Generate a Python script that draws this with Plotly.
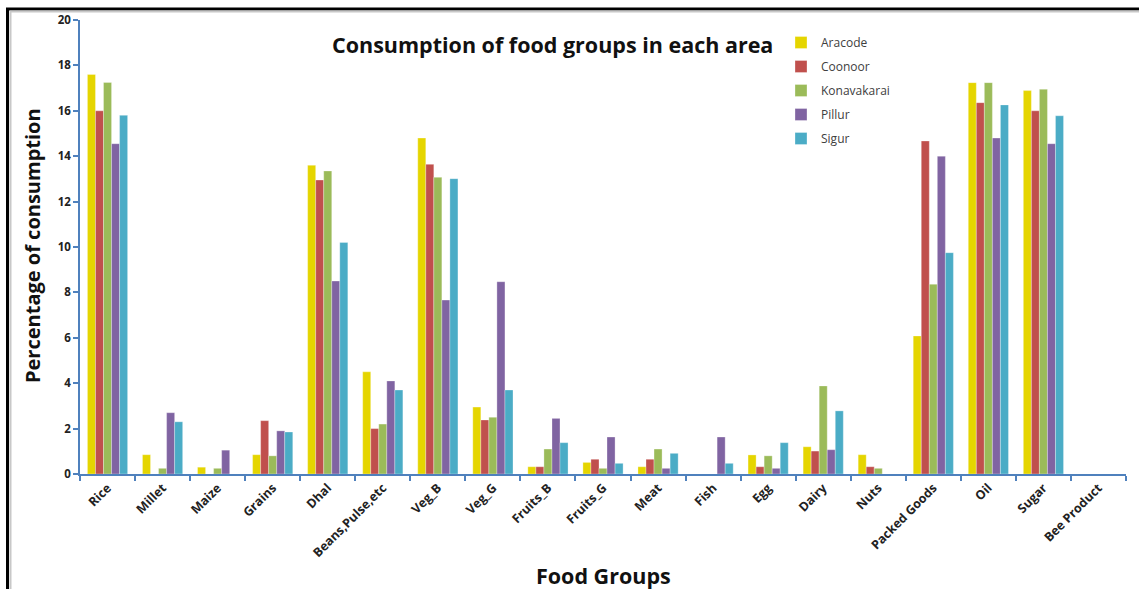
import plotly.graph_objects as go

categories = ["Rice", "Millet", "Maize", "Grains", "Dhal", "Beans,Pulse,etc", "Veg_B", "Veg_G",
              "Fruits_B", "Fruits_G", "Meat", "Fish", "Egg", "Dairy", "Nuts", "Packed Goods",
              "Oil", "Sugar", "Bee Product"]

aracode     = [17.6, 0.85, 0.30, 0.85, 13.6, 4.5, 14.8, 2.95, 0.32, 0.51, 0.32, 0.0, 0.84, 1.20, 0.85, 6.08, 17.24, 16.89, 0.0]
coonoor     = [16.0, 0.0, 0.0, 2.35, 12.95, 2.0, 13.64, 2.38, 0.32, 0.65, 0.65, 0.0, 0.32, 1.01, 0.32, 14.67, 16.36, 16.0, 0.0]
konavakarai = [17.25, 0.25, 0.25, 0.80, 13.35, 2.2, 13.07, 2.5, 1.10, 0.25, 1.10, 0.0, 0.80, 3.88, 0.25, 8.36, 17.24, 16.95, 0.0]
pillur      = [14.55, 2.7, 1.05, 1.90, 8.5, 4.1, 7.66, 8.47, 2.45, 1.63, 0.25, 1.63, 0.25, 1.07, 0.0, 14.0, 14.8, 14.55, 0.0]
sigur       = [15.8, 2.3, 0.0, 1.85, 10.2, 3.7, 13.01, 3.70, 1.38, 0.47, 0.91, 0.47, 1.38, 2.78, 0.0, 9.75, 16.26, 15.78, 0.0]

series_names = ["Aracode", "Coonoor", "Konavakarai", "Pillur", "Sigur"]
series_values = [aracode, coonoor, konavakarai, pillur, sigur]
colors = ["#E5D500", "#C0504D", "#9BBB59", "#8064A2", "#4BACC6"]

FONT = "Open Sans"

fig = go.Figure()
for name, vals, col in zip(series_names, series_values, colors):
    fig.add_trace(go.Bar(
        x=categories, y=vals, name=name, legendgroup=name,
        marker=dict(color=col, line=dict(color="rgba(255,255,255,0.5)", width=0.6)),
    ))

L, R, T, B = 80, 13, 20, 115
W, H = 1139, 589
pw, ph = W - L - R, H - T - B

def px(x):
    return (x - L) / pw

def py(y):
    return (H - B - y) / ph

axis_col = "#4F81BD"
fig.update_layout(
    width=W, height=H,
    margin=dict(l=L, r=R, t=T, b=B),
    paper_bgcolor="white", plot_bgcolor="white",
    barmode="group", bargap=0.27, bargroupgap=0,
    font=dict(family=FONT, color="#222222"),
    showlegend=True,
    legend=dict(x=px(781), y=py(28), xanchor="left", yanchor="top",
                font=dict(size=12, color="#404040", family=FONT),
                tracegroupgap=5, itemwidth=30, bgcolor="rgba(0,0,0,0)"),
    xaxis=dict(showline=True, linecolor=axis_col, linewidth=1.5,
               ticks="outside", tickcolor=axis_col, ticklen=5, tickwidth=1.5,
               tickson="boundaries", tickangle=-45,
               tickfont=dict(size=12.5, family=FONT, color="#222222", weight="bold"),
               showgrid=False, zeroline=False),
    yaxis=dict(range=[0, 20], dtick=2, showline=True, linecolor=axis_col, linewidth=1.5,
               ticks="outside", tickcolor=axis_col, ticklen=5, tickwidth=1.5,
               tickfont=dict(size=11.5, family=FONT, color="#222222", weight="bold"),
               showgrid=False, zeroline=False),
)

fig.add_annotation(text="<b>Consumption of food groups in each area</b>", xref="paper", yref="paper",
                   x=px(552), y=py(45), xanchor="center", yanchor="middle", showarrow=False,
                   font=dict(size=21.5, family=FONT, color="#111111"))
fig.add_annotation(text="<b>Percentage of consumption</b>", xref="paper", yref="paper",
                   x=px(32), y=py(246), xanchor="center", yanchor="middle", showarrow=False,
                   textangle=-90, font=dict(size=20, family=FONT, color="#111111"))
fig.add_annotation(text="<b>Food Groups</b>", xref="paper", yref="paper",
                   x=px(603), y=py(575), xanchor="center", yanchor="middle", showarrow=False,
                   font=dict(size=21.5, family=FONT, color="#111111"))

# frame lines of the picture
fig.add_shape(type="line", xref="paper", yref="paper", x0=px(6), x1=px(1145), y0=py(9), y1=py(9),
              line=dict(color="black", width=3), layer="above")
fig.add_shape(type="line", xref="paper", yref="paper", x0=px(7.5), x1=px(7.5), y0=py(8), y1=py(600),
              line=dict(color="black", width=3), layer="above")
fig.add_shape(type="line", xref="paper", yref="paper", x0=px(10), x1=px(1145), y0=py(11.5), y1=py(11.5),
              line=dict(color="#C8C8C8", width=2), layer="above")
fig.add_shape(type="line", xref="paper", yref="paper", x0=px(10.5), x1=px(10.5), y0=py(11), y1=py(600),
              line=dict(color="#C8C8C8", width=2), layer="above")

fig.write_html("out.html")
